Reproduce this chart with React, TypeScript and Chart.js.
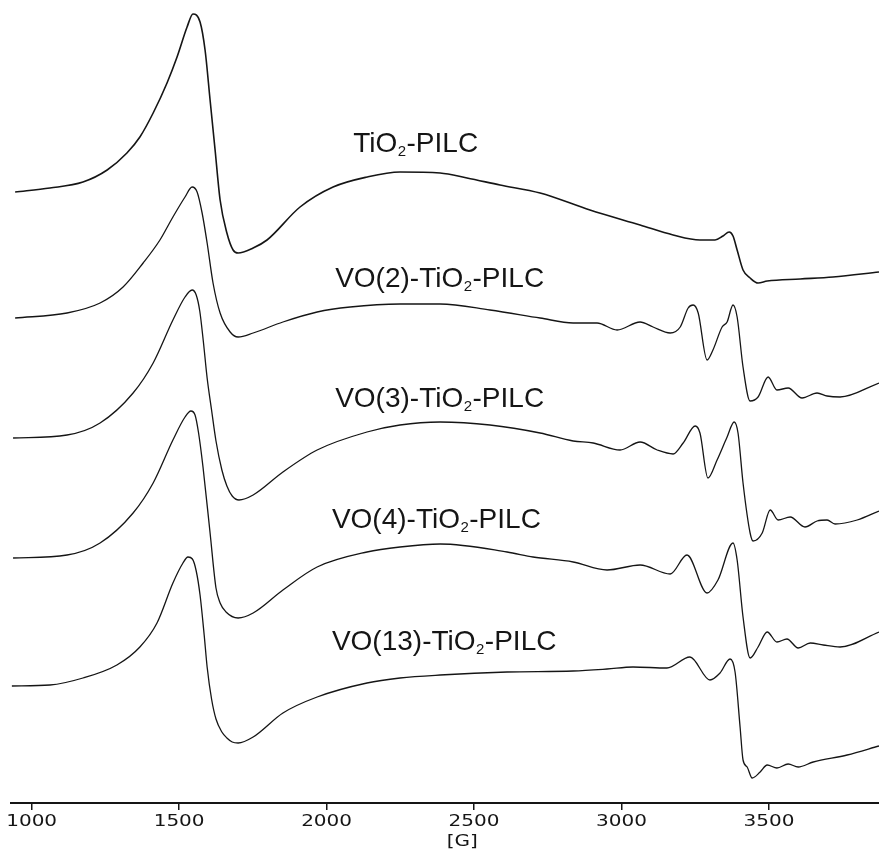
import React, { useEffect, useRef } from 'react';
import { Chart, registerables } from 'chart.js';

Chart.register(...registerables);

// Magnetic field (G) and stacked EPR signal (arbitrary units, offset per spectrum)
const fieldTiO2 = [944, 1062, 1174, 1256, 1323, 1367, 1412, 1459, 1493, 1527, 1547, 1571, 1588, 1605, 1622, 1639, 1662, 1683, 1700, 1751, 1798, 1910, 2022, 2137, 2249, 2385, 2476, 2588, 2724, 2893, 3063, 3175, 3266, 3317, 3344, 3365, 3378, 3392, 3412, 3436, 3463, 3494, 3606, 3717, 3873];
const signalTiO2 = [611, 615, 621, 633, 650, 666, 690, 720, 746, 776, 789, 781, 753, 703, 653, 603, 570, 553, 550, 555, 563, 596, 616, 626, 631, 630, 625, 618, 610, 593, 578, 568, 563, 563, 567, 571, 567, 553, 533, 525, 520, 522, 524, 526, 531];

const fieldVO2 = [944, 1120, 1232, 1310, 1378, 1435, 1479, 1520, 1544, 1561, 1578, 1595, 1615, 1639, 1673, 1700, 1751, 1852, 1968, 2080, 2249, 2385, 2554, 2724, 2836, 2917, 2985, 3063, 3107, 3165, 3199, 3226, 3243, 3260, 3290, 3310, 3341, 3358, 3378, 3392, 3412, 3436, 3463, 3497, 3527, 3565, 3612, 3663, 3697, 3741, 3873];
const signalVO2 = [485, 490, 500, 516, 540, 563, 586, 606, 616, 611, 590, 560, 520, 490, 471, 466, 470, 481, 491, 496, 499, 499, 493, 485, 480, 480, 473, 481, 476, 470, 476, 495, 498, 490, 443, 453, 476, 481, 498, 486, 436, 402, 406, 426, 413, 415, 405, 410, 407, 406, 420];

const fieldVO3 = [937, 1120, 1232, 1344, 1412, 1479, 1520, 1544, 1558, 1570, 1582, 1595, 1610, 1625, 1645, 1662, 1680, 1703, 1751, 1852, 1968, 2137, 2249, 2385, 2554, 2724, 2836, 2904, 2995, 3063, 3121, 3175, 3209, 3250, 3266, 3293, 3324, 3358, 3382, 3395, 3412, 3436, 3446, 3477, 3504, 3531, 3572, 3622, 3663, 3697, 3724, 3799, 3873];
const signalVO3 = [365, 368, 380, 410, 440, 483, 506, 513, 508, 492, 462, 425, 393, 362, 333, 317, 307, 303, 308, 331, 353, 371, 378, 381, 378, 370, 362, 360, 353, 361, 353, 349, 360, 377, 370, 325, 343, 366, 381, 370, 320, 270, 262, 270, 293, 283, 286, 276, 282, 283, 279, 283, 292];

const fieldVO4 = [937, 1120, 1232, 1344, 1412, 1479, 1520, 1540, 1554, 1566, 1581, 1605, 1625, 1639, 1659, 1700, 1751, 1852, 1968, 2137, 2249, 2385, 2612, 2700, 2836, 2951, 3063, 3165, 3222, 3290, 3327, 3378, 3392, 3412, 3436, 3463, 3494, 3527, 3561, 3599, 3640, 3684, 3741, 3873];
const signalVO4 = [245, 248, 260, 290, 320, 363, 386, 392, 388, 370, 336, 270, 215, 200, 191, 185, 190, 213, 236, 251, 256, 259, 251, 246, 241, 233, 238, 229, 248, 210, 223, 260, 243, 186, 145, 156, 171, 161, 164, 155, 160, 158, 156, 171];

const fieldVO13 = [933, 1062, 1174, 1289, 1367, 1425, 1479, 1513, 1530, 1545, 1558, 1571, 1585, 1595, 1610, 1625, 1645, 1662, 1680, 1700, 1751, 1852, 1968, 2137, 2249, 2385, 2612, 2836, 2951, 3039, 3154, 3232, 3300, 3334, 3368, 3385, 3402, 3412, 3426, 3443, 3470, 3494, 3527, 3565, 3599, 3650, 3765, 3873];
const signalVO13 = [117, 118, 125, 138, 156, 180, 220, 240, 246, 244, 232, 208, 168, 136, 104, 84, 71, 65, 61, 60, 66, 90, 106, 120, 125, 128, 131, 132, 134, 136, 135, 146, 123, 130, 144, 131, 76, 43, 36, 25, 31, 38, 35, 39, 36, 41, 48, 57];

const seriesNames = ['TiO₂-PILC', 'VO(2)-TiO₂-PILC', 'VO(3)-TiO₂-PILC', 'VO(4)-TiO₂-PILC', 'VO(13)-TiO₂-PILC'];
const seriesFields = [fieldTiO2, fieldVO2, fieldVO3, fieldVO4, fieldVO13];
const seriesSignals = [signalTiO2, signalVO2, signalVO3, signalVO4, signalVO13];

// label anchors (field in G, signal level of text baseline)
const labelField = [2090, 2029, 2029, 2018, 2018];
const labelLevel = [651, 516, 396, 275, 153];

const tickValues = [1000, 1500, 2000, 2500, 3000, 3500];
const axisTitle = '[G]';
const axisTitleField = 2460;
const fieldMin = 930;
const fieldMax = 3873;
const signalMax = 803;

const INK = '#151515';

const annotatePlugin = {
  id: 'annotateSpectra',
  afterDraw(chart: any) {
    const { ctx } = chart;
    const x = chart.scales.x;
    const y = chart.scales.y;
    ctx.save();
    ctx.fillStyle = INK;
    ctx.textAlign = 'left';
    ctx.textBaseline = 'alphabetic';
    const bigFont = '28px "Liberation Sans", Arial, Helvetica, sans-serif';
    const subFont = '15px "Liberation Sans", Arial, Helvetica, sans-serif';
    seriesNames.forEach((name, i) => {
      let px = x.getPixelForValue(labelField[i]);
      const py = y.getPixelForValue(labelLevel[i]);
      const parts = name.split('₂');
      parts.forEach((part, j) => {
        ctx.font = bigFont;
        ctx.fillText(part, px, py);
        px += ctx.measureText(part).width;
        if (j < parts.length - 1) {
          ctx.font = subFont;
          ctx.fillText('2', px + 0.5, py + 4);
          px += ctx.measureText('2').width + 1;
        }
      });
    });

    // tick labels (wide Verdana-like digits)
    ctx.font = '16px "DejaVu Sans", Verdana, sans-serif';
    ctx.textAlign = 'center';
    ctx.textBaseline = 'middle';
    x.ticks.forEach((t: any, i: number) => {
      const px = x.getPixelForTick(i);
      ctx.save();
      ctx.translate(px, x.top + 19);
      ctx.scale(1.25, 1);
      ctx.fillText(String(t.value), 0, 0);
      ctx.restore();
    });

    ctx.save();
    ctx.translate(x.getPixelForValue(axisTitleField), x.top + 39);
    ctx.scale(1.25, 1);
    ctx.fillText(axisTitle, 0, 0);
    ctx.restore();

    ctx.restore();
  },
};

export default function App() {
  const canvasRef = useRef<HTMLCanvasElement | null>(null);

  useEffect(() => {
    const canvas = canvasRef.current;
    if (!canvas) return;
    const datasets = seriesNames.map((name, i) => ({
      label: name,
      data: seriesFields[i].map((f, k) => ({ x: f, y: seriesSignals[i][k] })),
      borderColor: INK,
      backgroundColor: INK,
      borderWidth: i === 0 ? 1.6 : 1.3,
      pointRadius: 0,
      fill: false,
      cubicInterpolationMode: 'monotone' as const,
    }));

    const chart = new Chart(canvas, {
      type: 'line',
      data: { datasets },
      options: {
        animation: false,
        responsive: false,
        devicePixelRatio: 1,
        parsing: false as any,
        layout: { padding: { left: 11, right: 0, top: 0, bottom: 0 } },
        plugins: {
          legend: { display: false },
          tooltip: { enabled: false },
        },
        scales: {
          x: {
            type: 'linear',
            position: 'bottom',
            min: fieldMin,
            max: fieldMax,
            afterBuildTicks: (s: any) => {
              s.ticks = tickValues.map((v) => ({ value: v }));
            },
            afterFit: (s: any) => {
              s.height = 47;
              s.paddingLeft = 0;
              s.paddingRight = 0;
            },
            grid: {
              display: true,
              drawOnChartArea: false,
              drawTicks: true,
              tickLength: 7,
              color: INK,
              lineWidth: 1.5,
            },
            border: { display: true, color: INK, width: 2 },
            ticks: { display: false },
          },
          y: {
            type: 'linear',
            display: false,
            min: 0,
            max: signalMax,
          },
        },
      },
      plugins: [annotatePlugin],
    });
    return () => chart.destroy();
  }, []);

  return (
    <div style={{ position: 'absolute', left: 0, top: 0, width: 879, height: 850, background: '#fff' }}>
      <canvas ref={canvasRef} width={879} height={850} style={{ display: 'block' }} />
    </div>
  );
}
